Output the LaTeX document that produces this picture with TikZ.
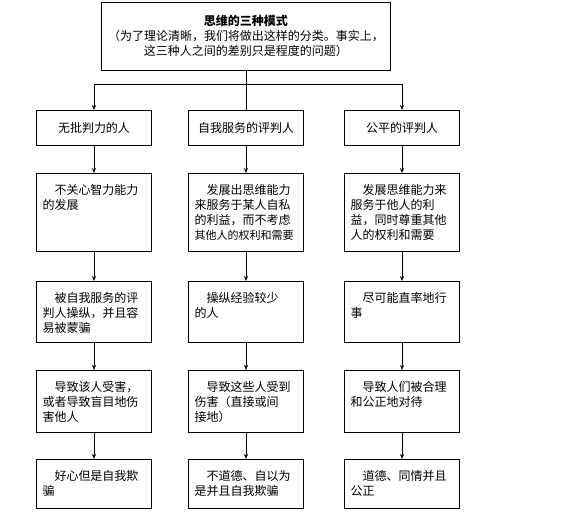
\documentclass[tikz,border=0pt]{standalone}
\usepackage{fontspec}
\setmainfont{Noto Sans CJK SC}
\usetikzlibrary{arrows.meta}

\begin{document}
\begin{tikzpicture}[x=1pt,y=-1pt,line width=0.6pt,
  font=\fontsize{12}{15}\selectfont,
  topbox/.style={draw, align=center, minimum width=289pt, minimum height=68pt, inner xsep=4pt, anchor=north},
  headbox/.style={draw, align=center, minimum width=115pt, minimum height=35pt, inner sep=0pt, anchor=north},
  stagebox/.style={draw, anchor=north, align=left, minimum width=115pt, text width=103pt,
    inner xsep=6pt, inner ysep=8pt, text height=13pt, text depth=#1},
  flow/.style={-{Stealth[length=5pt,width=4pt]}}]
\useasboundingbox (0,0) rectangle (566,514);
\node[topbox] (mode) at (246,2) {{\bfseries 思维的三种模式}\\（为了理论清晰，我们将做出这样的分类。事实上，\\这三种人之间的差别只是程度的问题）};
\coordinate (split) at (246,84);
\coordinate (splitl) at (94,84);
\coordinate (splitr) at (402,84);
% the three kinds of thinkers
\node[headbox] (uncrit) at (94,110) {无批判力的人};
\node[headbox] (selfj) at (246,110) {自我服务的评判人};
\node[headbox] (fairj) at (402,110) {公平的评判人};
\node[stagebox=49pt] (ucare) at (94,173) {\hspace*{1em}不关心智力能力\\的发展};
\node[stagebox=49pt] (sdev) at (246,173) {\hspace*{1em}发展出思维能力\\来服务于某人自私\\的利益，而不考虑\\{\fontsize{11}{15}\selectfont 其他人的权利和需要}};
\node[stagebox=49pt] (fdev) at (402,173) {\hspace*{1em}发展思维能力来\\服务于他人的利\\益，同时尊重其他\\人的权利和需要};
\node[stagebox=32pt] (umanip) at (94,281) {\hspace*{1em}被自我服务的评\\判人操纵，并且容\\易被蒙骗};
\node[stagebox=32pt] (smanip) at (246,281) {\hspace*{1em}操纵经验较少\\的人};
\node[stagebox=32pt] (fact) at (402,281) {\hspace*{1em}尽可能直率地行\\事};
\node[stagebox=33pt] (uharm) at (94,370) {\hspace*{1em}导致该人受害，\\或者导致盲目地伤\\害他人};
\node[stagebox=33pt] (sharm) at (246,370) {\hspace*{1em}导致这些人受到\\伤害（直接或间\\接地）};
\node[stagebox=33pt] (ftreat) at (402,370) {\hspace*{1em}导致人们被合理\\和公正地对待};
\node[stagebox=20pt] (uend) at (94,459) {\hspace*{1em}好心但是自我欺\\骗};
\node[stagebox=20pt] (send) at (246,459) {\hspace*{1em}不道德、自以为\\是并且自我欺骗};
\node[stagebox=20pt] (fend) at (402,459) {\hspace*{1em}道德、同情并且\\公正};
% split from the top box
\draw (mode.south) -- (split);
\draw (splitl) -- (splitr);
\draw[flow] (splitl) -- (uncrit);
\draw (split) -- (selfj);
\draw[flow] (splitr) -- (fairj);
% columns
\draw[flow] (uncrit) -- (ucare);
\draw[flow] (ucare) -- (umanip);
\draw[flow] (umanip) -- (uharm);
\draw[flow] (uharm) -- (uend);
\draw[flow] (selfj) -- (sdev);
\draw[flow] (sdev) -- (smanip);
\draw[flow] (smanip) -- (sharm);
\draw[flow] (sharm) -- (send);
\draw[flow] (fairj) -- (fdev);
\draw[flow] (fdev) -- (fact);
\draw[flow] (fact) -- (ftreat);
\draw[flow] (ftreat) -- (fend);
\end{tikzpicture}
\end{document}
